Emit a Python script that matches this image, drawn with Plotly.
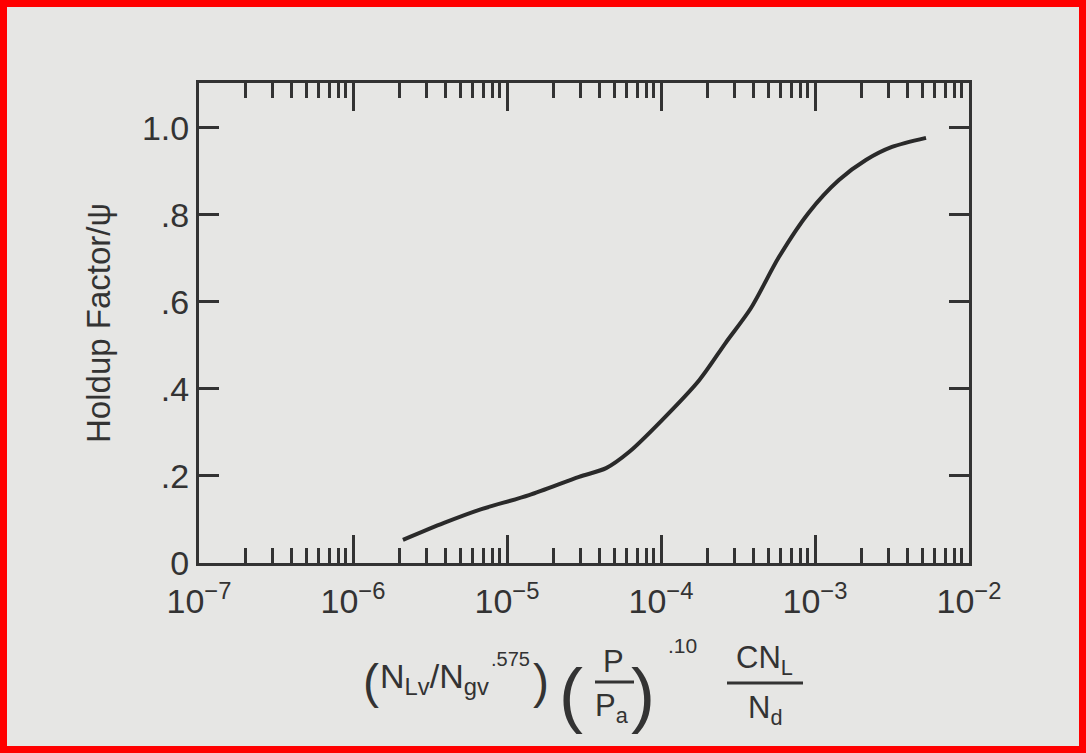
import plotly.graph_objects as go

# ---- data ----
x_vals = [2.11e-6, 3.9e-6, 6.6e-6, 1.39e-5, 2.94e-5, 4.4e-5, 6.2e-5, 1.02e-4,
          1.77e-4, 2.63e-4, 3.84e-4, 5.83e-4, 9.1e-4, 1.43e-3, 2.14e-3, 3.16e-3, 5.26e-3]
y_vals = [0.053, 0.092, 0.122, 0.156, 0.198, 0.218, 0.255, 0.329,
          0.420, 0.506, 0.586, 0.703, 0.805, 0.880, 0.926, 0.956, 0.977]

x_tick_vals = [1e-7, 1e-6, 1e-5, 1e-4, 1e-3, 1e-2]
x_tick_text = ["10<sup>−7</sup>", "10<sup>−6</sup>", "10<sup>−5</sup>",
               "10<sup>−4</sup>", "10<sup>−3</sup>", "10<sup>−2</sup>"]
x_minor_vals = [m * d for d in [1e-7, 1e-6, 1e-5, 1e-4, 1e-3] for m in range(2, 10)]
y_tick_vals = [0, 0.2, 0.4, 0.6, 0.8, 1.0]
y_tick_text = ["0", ".2", ".4", ".6", ".8", "1.0"]

INK = "#333333"
BG = "#e6e6e4"
FONT = "Liberation Sans, Arial, Helvetica, sans-serif"

W, H = 1086, 753
L, R, T, B = 199, 969, 83, 563


def px(x):
    return (x - L) / (R - L)


def py(y):
    return (B - y) / (B - T)


fig = go.Figure()
fig.add_trace(go.Scatter(
    x=x_vals, y=y_vals, mode="lines",
    line=dict(color="#2a2a2a", width=4, shape="spline", smoothing=0.8),
    showlegend=False, hoverinfo="skip"))

fig.update_xaxes(
    type="log", range=[-7, -2],
    tickmode="array", tickvals=x_tick_vals, ticktext=x_tick_text,
    ticks="inside", ticklen=28, tickwidth=3, tickcolor=INK,
    minor=dict(tickmode="array", tickvals=x_minor_vals, ticks="inside",
               ticklen=15, tickwidth=3, tickcolor=INK, showgrid=False),
    showline=True, linecolor=INK, linewidth=3, mirror="allticks",
    showgrid=False, zeroline=False,
    tickfont=dict(family=FONT, size=34, color=INK),
    ticklabelstandoff=6,
)
fig.update_yaxes(
    range=[0, 1.103],
    tickmode="array", tickvals=y_tick_vals, ticktext=y_tick_text,
    ticks="inside", ticklen=20, tickwidth=3, tickcolor=INK,
    showline=True, linecolor=INK, linewidth=3, mirror="allticks",
    showgrid=False, zeroline=False,
    tickfont=dict(family=FONT, size=34, color=INK),
    title=dict(text="Holdup Factor/ψ", font=dict(family=FONT, size=33, color=INK), standoff=22),
)

ann = []


def add(text, x, y, size=31):
    ann.append(dict(text=text, x=px(x), y=py(y), xref="paper", yref="paper",
                    showarrow=False, xanchor="center", yanchor="middle",
                    font=dict(family=FONT, size=size, color=INK)))


add("(", 371, 681, 48)
add("N<sub>Lv</sub>/N<sub>gv</sub>", 434, 678, 34)
add(".575", 510, 659, 20)
add(")", 541, 681, 48)
add("(", 571, 694, 72)
add(")", 643, 694, 72)
add("P", 613, 661)
add("P<sub>a</sub>", 612, 708)
add(".10", 682, 645, 21)
add("CN<sub>L</sub>", 764, 660)
add("N<sub>d</sub>", 765, 710)

shapes = [
    dict(type="line", xref="paper", yref="paper", x0=px(595), x1=px(634), y0=py(682), y1=py(682),
         line=dict(color=INK, width=3)),
    dict(type="line", xref="paper", yref="paper", x0=px(727), x1=px(803), y0=py(683), y1=py(683),
         line=dict(color=INK, width=3)),
    dict(type="rect", xref="paper", yref="paper", x0=px(3.5), x1=px(1082.5), y0=py(3.5), y1=py(749.5),
         line=dict(color="#ff0000", width=7), fillcolor="rgba(0,0,0,0)", layer="above"),
]

fig.update_layout(
    width=W, height=H,
    margin=dict(l=L, r=W - R, t=T, b=H - B),
    paper_bgcolor=BG, plot_bgcolor=BG,
    annotations=ann, shapes=shapes,
    font=dict(family=FONT, color=INK),
)

fig.write_html("out.html")
